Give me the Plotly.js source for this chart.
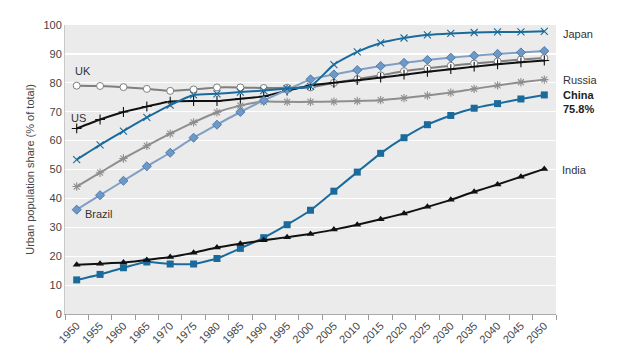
<!DOCTYPE html>
<html>
<head>
<meta charset="utf-8">
<script src="https://cdn.plot.ly/plotly-3.0.1.min.js"></script>
<style>html,body{margin:0;padding:0;background:#fff;}#chart{width:628px;height:353px;}</style>
</head>
<body>
<div id="chart"></div>
<script>
const years = ['1950','1955','1960','1965','1970','1975','1980','1985','1990','1995','2000','2005','2010','2015','2020','2025','2030','2035','2040','2045','2050'];
const uk     = [79.0,78.9,78.5,77.9,77.2,77.7,78.4,78.4,78.2,78.3,78.4,80.0,81.3,82.6,84.0,85.0,85.9,86.7,87.4,88.1,88.6];
const us     = [64.2,67.3,69.9,71.8,73.5,73.7,73.7,74.5,75.3,77.3,79.1,80.0,80.9,81.8,82.8,83.8,84.7,85.6,86.4,87.1,87.7];
const japan  = [53.4,58.5,63.3,68.0,72.3,75.8,76.2,76.8,77.3,78.0,78.8,86.3,90.7,93.8,95.5,96.6,97.1,97.4,97.6,97.6,97.8];
const brazil = [36.1,41.1,46.1,51.1,55.8,61.0,65.5,69.9,73.9,77.6,81.2,82.9,84.4,85.8,86.9,87.9,88.7,89.4,90.0,90.5,91.0];
const russia = [44.1,48.9,53.8,58.2,62.4,66.3,69.8,72.1,73.5,73.4,73.4,73.5,73.7,74.0,74.7,75.6,76.6,77.9,79.1,80.2,81.1];
const china  = [11.8,13.7,16.0,18.0,17.3,17.3,19.2,22.7,26.4,30.9,35.9,42.5,49.1,55.6,61.0,65.5,68.7,71.2,72.8,74.4,75.8];
const india  = [17.0,17.4,17.8,18.7,19.7,21.2,23.0,24.3,25.5,26.6,27.7,29.2,30.9,32.8,34.8,37.1,39.5,42.3,44.8,47.5,50.2];

const lab = {family:'Liberation Sans, Arial, sans-serif', size:11, color:'#333'};
function tr(y, color, width, symbol, msize, mcolor, mline, mlw){
  return {x: years, y: y, type:'scatter', mode:'lines+markers',
    line:{color:color, width:width, shape:'spline', smoothing:0.5},
    marker:{symbol:symbol, size:msize, color:mcolor, line:{color:mline, width:mlw}},
    hoverinfo:'skip', showlegend:false, cliponaxis:false};
}
const data = [
  tr(russia, '#8e8e8e', 2, 'asterisk-open', 7, '#8e8e8e', '#8e8e8e', 1.1),
  tr(uk, '#7f7f7f', 2, 'circle', 7, '#ffffff', '#7f7f7f', 1),
  tr(us, '#111111', 2, 'cross-thin-open', 7, '#111', '#111', 1.1),
  tr(brazil, '#7f9fc4', 2, 'diamond', 7, '#6d98c8', '#3f6f9f', 0.8),
  tr(japan, '#1a6b9c', 2, 'x-thin-open', 7, '#1a6b9c', '#1a6b9c', 1.1),
  tr(china, '#1a6b9c', 2, 'square', 7, '#1a6b9c', '#1a6b9c', 0),
  tr(india, '#111111', 2, 'triangle-up', 7, '#111', '#111', 0)
];
const layout = {
  width:628, height:353,
  margin:{l:65, r:72, t:25, b:39},
  paper_bgcolor:'#ffffff', plot_bgcolor:'#ebebeb',
  font:{family:'Liberation Sans, Arial, sans-serif', size:11, color:'#444'},
  xaxis:{type:'category', range:[-0.5,20.5], tickangle:-45, ticks:'outside', tickson:'boundaries',
    ticklen:5, tickcolor:'#999', showline:true, linecolor:'#aaa', linewidth:1, showgrid:false,
    tickfont:{size:11, color:'#444'}, fixedrange:true},
  yaxis:{range:[0,100], dtick:10, showgrid:true, gridcolor:'#ffffff', gridwidth:1.2, zeroline:false,
    showline:true, linecolor:'#c8c8c8', ticks:'', ticklen:0,
    tickfont:{size:11, color:'#444'},
    title:{text:'Urban population share (% of total)', font:{size:11, color:'#444'}, standoff:6}},
  annotations:[
    {xref:'paper', yref:'paper', x:(73-65)/491, y:(314-71)/289, text:'UK', showarrow:false, xanchor:'left', yanchor:'middle', font:lab},
    {xref:'paper', yref:'paper', x:(69-65)/491, y:(314-118)/289, text:'US', showarrow:false, xanchor:'left', yanchor:'middle', font:lab},
    {xref:'paper', yref:'paper', x:(83-65)/491, y:(314-214)/289, text:'Brazil', showarrow:false, xanchor:'left', yanchor:'middle', font:lab},
    {xref:'paper', yref:'paper', x:(561-65)/491, y:(314-34)/289, text:'Japan', showarrow:false, xanchor:'left', yanchor:'middle', font:lab},
    {xref:'paper', yref:'paper', x:(561-65)/491, y:(314-80)/289, text:'Russia', showarrow:false, xanchor:'left', yanchor:'middle', font:lab},
    {xref:'paper', yref:'paper', x:(561-65)/491, y:(314-102)/289, text:'<b>China</b><br><b>75.8%</b>', showarrow:false, xanchor:'left', yanchor:'middle', align:'left', font:{family:lab.family, size:11, color:'#222'}},
    {xref:'paper', yref:'paper', x:(560-65)/491, y:(314-170)/289, text:'India', showarrow:false, xanchor:'left', yanchor:'middle', font:lab}
  ]
};
Plotly.newPlot('chart', data, layout, {displayModeBar:false, staticPlot:true});
</script>
</body>
</html>
